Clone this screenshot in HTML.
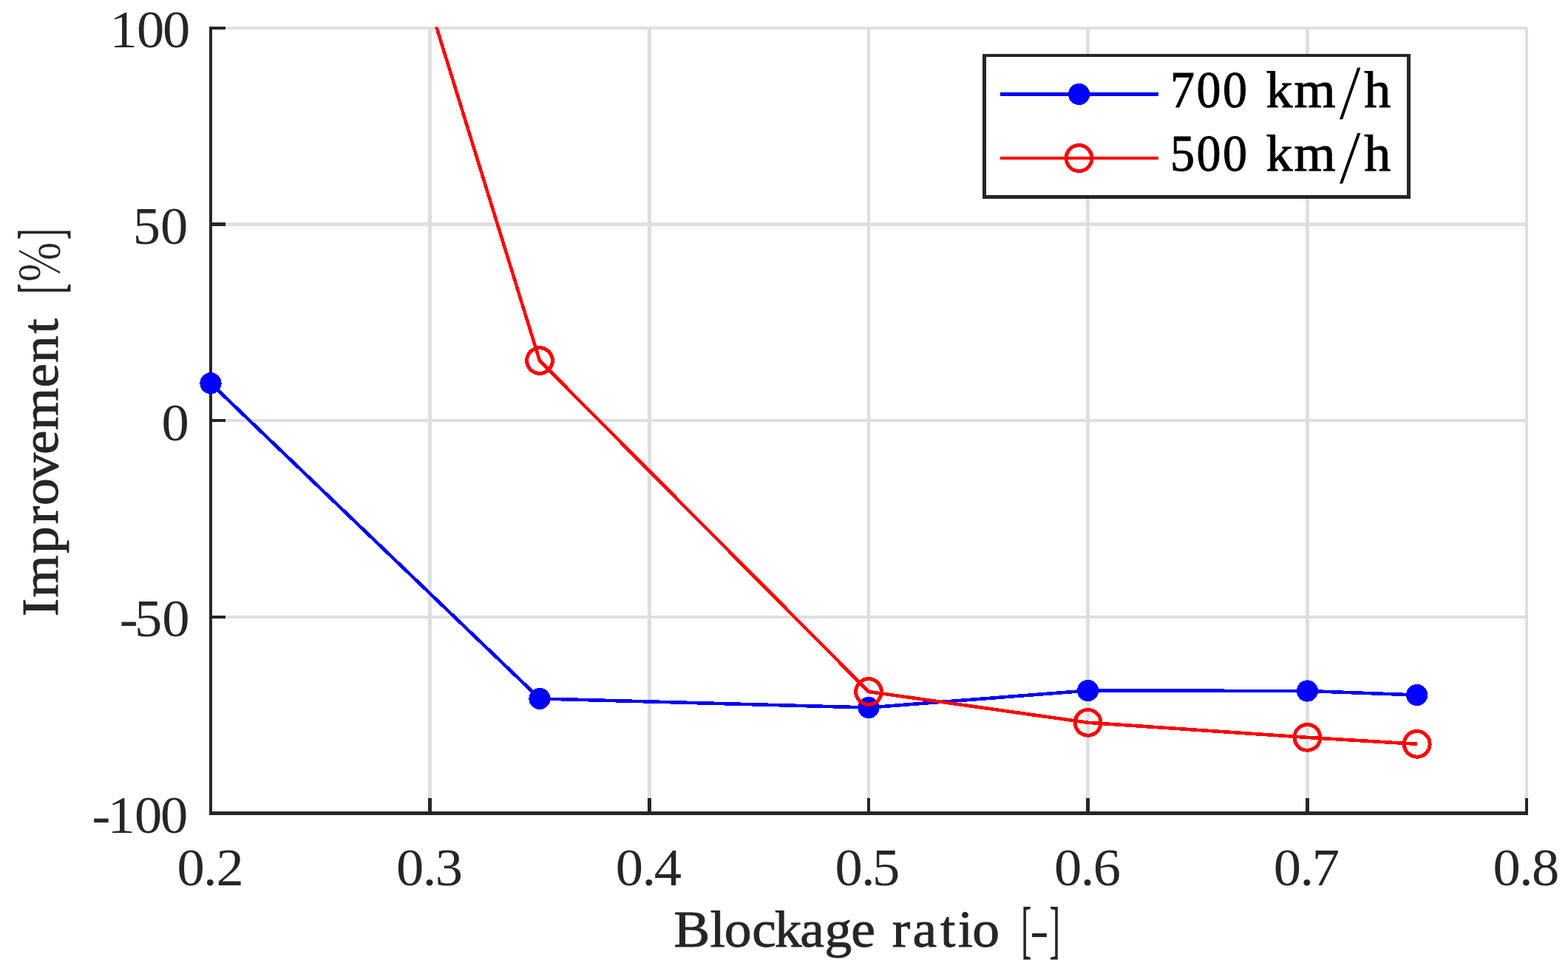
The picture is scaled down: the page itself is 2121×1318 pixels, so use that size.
<!DOCTYPE html>
<html lang="en"><head><meta charset="utf-8"><title>Improvement vs blockage ratio</title>
<style>html,body{margin:0;padding:0;background:#fff}body{width:2121px;height:1318px;overflow:hidden}svg{display:block}text{font-family:"Liberation Serif", "DejaVu Serif", serif;white-space:pre}</style></head><body>
<svg width="2121" height="1318" viewBox="0 0 2121 1318" role="img" aria-label="Improvement [%] versus blockage ratio [-] for 700 km/h and 500 km/h">
<rect x="0" y="0" width="2121" height="1318" fill="#fff"/>
<defs><clipPath id="plotclip"><rect x="283" y="36.4" width="1790" height="1070"/></clipPath></defs>
<g fill="#dfdfdf" shape-rendering="crispEdges">
<rect x="579" y="37" width="5" height="1061"/>
<rect x="876" y="37" width="5" height="1061"/>
<rect x="1173" y="37" width="4" height="1061"/>
<rect x="1469" y="37" width="5" height="1061"/>
<rect x="1766" y="37" width="5" height="1061"/>
<rect x="2063" y="37" width="4" height="1061"/>
<rect x="287" y="36" width="1778" height="4"/>
<rect x="287" y="301" width="1778" height="5"/>
<rect x="287" y="567" width="1778" height="4"/>
<rect x="287" y="833" width="1778" height="4"/>
</g>
<g fill="#262626" shape-rendering="crispEdges">
<rect x="283" y="36" width="4" height="1067"/>
<rect x="283" y="1098" width="1784" height="5"/>
<rect x="283" y="36" width="22" height="4"/>
<rect x="283" y="301" width="22" height="5"/>
<rect x="283" y="567" width="22" height="4"/>
<rect x="283" y="833" width="22" height="4"/>
<rect x="579" y="1080" width="5" height="23"/>
<rect x="876" y="1080" width="5" height="23"/>
<rect x="1173" y="1080" width="4" height="23"/>
<rect x="1469" y="1080" width="5" height="23"/>
<rect x="1766" y="1080" width="5" height="23"/>
<rect x="2063" y="1080" width="4" height="23"/>
</g>
<g fill="none" stroke-linejoin="miter" stroke-linecap="butt" shape-rendering="crispEdges">
<polyline stroke="#0000ff" stroke-width="4.6" points="285.0,518.6 730.0,945.4 1175.0,957.5 1471.6,934.5 1768.4,935.0 1916.7,940.5"/>
<polyline clip-path="url(#plotclip)" stroke="#ff0000" stroke-width="4.6" points="581.6,8.0 730.0,488.0 1175.0,936.0 1471.6,977.8 1768.4,997.9 1916.7,1006.8"/>
</g>
<g fill="#0000ff" shape-rendering="crispEdges"><circle cx="285.0" cy="518.6" r="14.6"/><circle cx="730.0" cy="945.4" r="14.6"/><circle cx="1175.0" cy="957.5" r="14.6"/><circle cx="1471.6" cy="934.5" r="14.6"/><circle cx="1768.4" cy="935.0" r="14.6"/><circle cx="1916.7" cy="940.5" r="14.6"/></g>
<g fill="none" stroke="#ff0000" stroke-width="5.0" shape-rendering="crispEdges"><circle cx="730.0" cy="488.0" r="17.4"/><circle cx="1175.0" cy="936.0" r="17.4"/><circle cx="1471.6" cy="977.8" r="17.4"/><circle cx="1768.4" cy="997.9" r="17.4"/><circle cx="1916.7" cy="1006.8" r="17.4"/></g>
<rect x="1329" y="73" width="579" height="196" fill="#262626" shape-rendering="crispEdges"/>
<rect x="1334" y="77" width="569" height="187" fill="#fff" shape-rendering="crispEdges"/>
<rect x="1353" y="125" width="214" height="5" fill="#0000ff" shape-rendering="crispEdges"/>
<circle cx="1459.6" cy="127.5" r="14.6" fill="#0000ff" shape-rendering="crispEdges"/>
<rect x="1353" y="212" width="214" height="4" fill="#ff0000" shape-rendering="crispEdges"/>
<circle cx="1459.6" cy="214.0" r="17.4" fill="none" stroke="#ff0000" stroke-width="5.0" shape-rendering="crispEdges"/>
<g class="legend">
<text transform="translate(1581.90 144.90) scale(1.0300 1)" font-size="70" fill="#000" style="stroke:#000;stroke-width:1.0px;stroke-linejoin:round"><tspan x="1.18 35.56 69.95" y="0" textLength="96.08" lengthAdjust="spacingAndGlyphs">700</tspan><tspan x="105.86 126.72 163.79" y="0"> km</tspan><tspan x="222.62" y="16.17" font-size="105.24" textLength="28.93" lengthAdjust="spacingAndGlyphs" style="stroke:#fff;stroke-width:0.8px;stroke-linejoin:miter">/</tspan><tspan x="255.66" y="0">h</tspan></text>
<text transform="translate(1581.90 230.80) scale(1.0300 1)" font-size="70" fill="#000" style="stroke:#000;stroke-width:1.0px;stroke-linejoin:round"><tspan x="1.18 35.56 69.95" y="0" textLength="96.08" lengthAdjust="spacingAndGlyphs">500</tspan><tspan x="105.86 126.72 163.79" y="0"> km</tspan><tspan x="222.62" y="16.78" font-size="104.64" textLength="28.93" lengthAdjust="spacingAndGlyphs" style="stroke:#fff;stroke-width:0.8px;stroke-linejoin:miter">/</tspan><tspan x="255.66" y="0">h</tspan></text>
</g>
<text transform="translate(150.90 63.70) scale(1.0300 1)" x="-2.42 33.02 67.09" y="0" font-size="72.4" fill="#262626">100</text>
<text transform="translate(183.00 329.90) scale(1.0300 1)" x="-3.20 33.02" y="0" font-size="72.4" fill="#262626">50</text>
<text transform="translate(219.50 595.90) scale(1.0300 1)" x="-1.06" y="0" font-size="72.4" fill="#262626">0</text>
<text transform="translate(161.82 860.90) scale(1.0300 1)" x="-0.12 19.50 55.71" y="0" font-size="72.4" fill="#262626">-50</text>
<text transform="translate(124.62 1126.80) scale(1.0300 1)" x="-0.12 20.28 55.71 89.79" y="0" font-size="72.4" fill="#262626">-100</text>
<text transform="translate(240.52 1197.70) scale(1.0300 1)" x="-1.06 33.55 50.54" y="0" font-size="72.4" fill="#262626">0.2</text>
<text transform="translate(537.19 1197.70) scale(1.0300 1)" x="-1.06 33.55 50.06" y="0" font-size="72.4" fill="#262626">0.3</text>
<text transform="translate(833.86 1197.70) scale(1.0300 1)" x="-1.06 33.55 49.47" y="0" font-size="72.4" fill="#262626">0.4</text>
<text transform="translate(1130.53 1197.70) scale(1.0300 1)" x="-1.06 33.55 47.92" y="0" font-size="72.4" fill="#262626">0.5</text>
<text transform="translate(1427.19 1197.70) scale(1.0300 1)" x="-1.06 33.55 50.06" y="0" font-size="72.4" fill="#262626">0.6</text>
<text transform="translate(1723.86 1197.70) scale(1.0300 1)" x="-1.06 33.55 49.38" y="0" font-size="72.4" fill="#262626">0.7</text>
<text transform="translate(2020.53 1197.70) scale(1.0300 1)" x="-1.06 33.55 50.06" y="0" font-size="72.4" fill="#262626">0.8</text>
<g class="xlabel">
<text transform="translate(910.70 1280.70) scale(1.0500 1)" font-size="70" fill="#262626" style="stroke:#262626;stroke-width:0.9px;stroke-linejoin:round"><tspan x="0.55 47.43 65.88 101.58 130.53 163.41 195.17 228.99 262.01 282.03 308.32 344.11 366.70 385.25 423.34" y="0">Blockage ratio </tspan><tspan x="448.51" y="5.85" font-size="84.09" textLength="12.68" lengthAdjust="spacingAndGlyphs">[</tspan><tspan x="459.50" y="0.27" font-size="66.93" textLength="24.17" lengthAdjust="spacingAndGlyphs" style="stroke:none">-</tspan><tspan x="484.74" y="5.85" font-size="84.09" textLength="13.39" lengthAdjust="spacingAndGlyphs">]</tspan></text>
</g>
<g class="ylabel" transform="translate(77.8 833.3) rotate(-90)">
<text transform="translate(-1.60 0.00) scale(1.0500 1)" font-size="70" fill="#262626" style="stroke:#262626;stroke-width:0.9px;stroke-linejoin:round"><tspan x="0.52 25.24 81.81 119.61 143.84 176.63 209.51 240.91 295.70 327.46 365.22 390.55" y="0">Improvement </tspan><tspan x="416.73" y="5.77" font-size="83.97" textLength="12.96" lengthAdjust="spacingAndGlyphs">[</tspan><tspan x="431.79" y="2.61" font-size="82.57" textLength="51.46" lengthAdjust="spacingAndGlyphs" style="stroke:#fff;stroke-width:0.7px;stroke-linejoin:miter">%</tspan><tspan x="486.26" y="5.77" font-size="83.97" textLength="14.24" lengthAdjust="spacingAndGlyphs">]</tspan></text>
</g>
</svg></body></html>
